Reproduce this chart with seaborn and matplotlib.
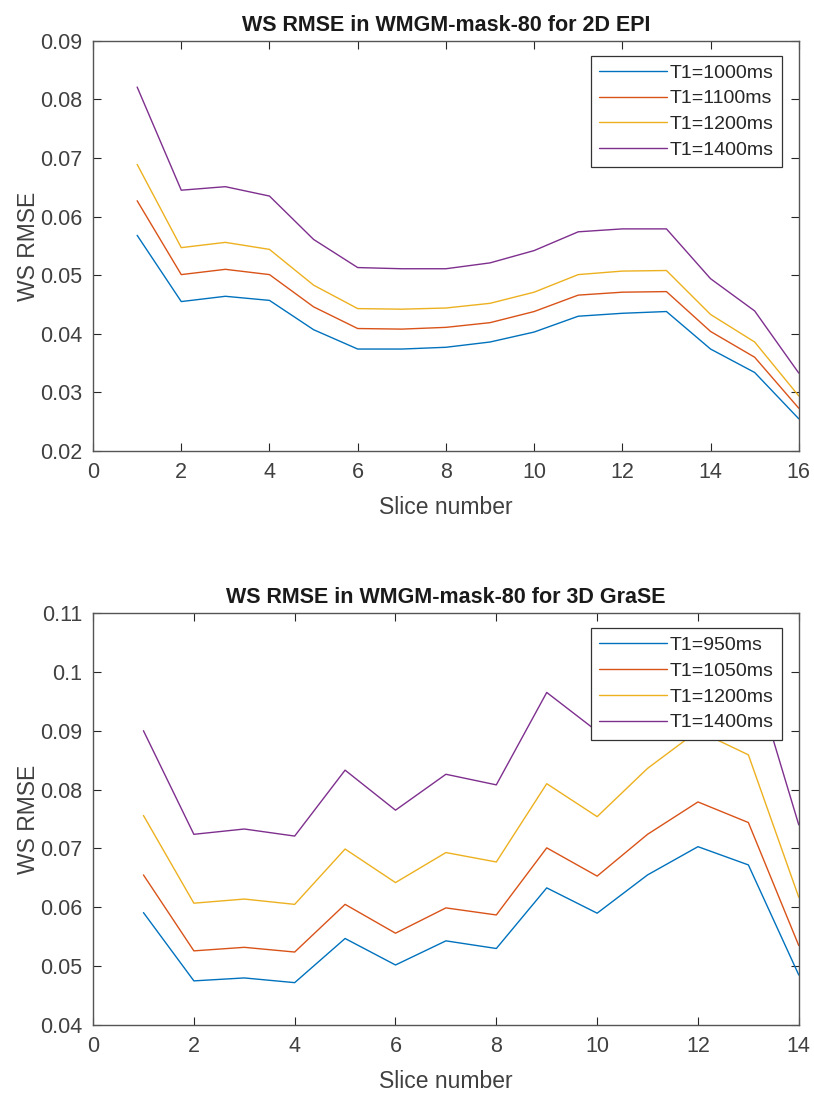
import numpy as np
import pandas as pd
import matplotlib
matplotlib.use("Agg")
import matplotlib.pyplot as plt
import seaborn as sns

# WS RMSE per slice, 2D EPI
epi_slices = list(range(1, 17))
epi_labels = ["T1=1000ms", "T1=1100ms", "T1=1200ms", "T1=1400ms"]
epi_t1_1000 = [0.0568, 0.0455, 0.0464, 0.0457, 0.0407, 0.0374, 0.0374, 0.0377,
               0.0386, 0.0403, 0.0430, 0.0435, 0.0438, 0.0374, 0.0334, 0.0255]
epi_t1_1100 = [0.0627, 0.0501, 0.0510, 0.0501, 0.0446, 0.0409, 0.0408, 0.0411,
               0.0419, 0.0438, 0.0466, 0.0471, 0.0472, 0.0404, 0.0360, 0.0273]
epi_t1_1200 = [0.0689, 0.0547, 0.0556, 0.0544, 0.0483, 0.0443, 0.0442, 0.0444,
               0.0452, 0.0471, 0.0501, 0.0507, 0.0508, 0.0433, 0.0386, 0.0294]
epi_t1_1400 = [0.0821, 0.0645, 0.0651, 0.0635, 0.0561, 0.0513, 0.0511, 0.0511,
               0.0521, 0.0542, 0.0574, 0.0579, 0.0579, 0.0494, 0.0439, 0.0333]

# WS RMSE per slice, 3D GraSE
grase_slices = list(range(1, 15))
grase_labels = ["T1=950ms", "T1=1050ms", "T1=1200ms", "T1=1400ms"]
grase_t1_950 = [0.0591, 0.0475, 0.0480, 0.0472, 0.0547, 0.0502, 0.0543,
                0.0530, 0.0633, 0.0590, 0.0655, 0.0703, 0.0672, 0.0485]
grase_t1_1050 = [0.0655, 0.0526, 0.0532, 0.0524, 0.0605, 0.0556, 0.0599,
                 0.0587, 0.0701, 0.0653, 0.0724, 0.0779, 0.0744, 0.0535]
grase_t1_1200 = [0.0756, 0.0607, 0.0614, 0.0605, 0.0699, 0.0642, 0.0693,
                 0.0677, 0.0810, 0.0754, 0.0836, 0.0900, 0.0859, 0.0617]
grase_t1_1400 = [0.0900, 0.0724, 0.0733, 0.0721, 0.0833, 0.0765, 0.0826,
                 0.0808, 0.0965, 0.0899, 0.0995, 0.1065, 0.1025, 0.0740]

epi_xticks = list(range(0, 17, 2))
epi_yticks = [0.02, 0.03, 0.04, 0.05, 0.06, 0.07, 0.08, 0.09]
grase_xticks = list(range(0, 15, 2))
grase_yticks = [0.04, 0.05, 0.06, 0.07, 0.08, 0.09, 0.1, 0.11]

colors = ["#0072BD", "#D95319", "#EDB120", "#7E2F8E"]
ink = "#262626"


def long_frame(slices, labels, series):
    rows = []
    for lab, vals in zip(labels, series):
        for s, v in zip(slices, vals):
            rows.append({"Slice": s, "RMSE": v, "T1": lab})
    return pd.DataFrame(rows)


sns.set_style("white")
plt.rcParams["font.family"] = ["Liberation Sans", "DejaVu Sans"]

fig = plt.figure(figsize=(8.14, 10.95), dpi=100)
ax_top = fig.add_axes([0.1143, 0.5881, 0.8670, 0.3747])
ax_bot = fig.add_axes([0.1143, 0.0639, 0.8670, 0.3763])


def style_axes(ax, df, labels, title, xticks, yticks, ytick_fmt):
    sns.lineplot(data=df, x="Slice", y="RMSE", hue="T1", hue_order=labels,
                 palette=colors, linewidth=1.0, ax=ax, legend=True)
    ax.set_xlim(xticks[0], xticks[-1])
    ax.set_ylim(yticks[0], yticks[-1])
    ax.set_xticks(xticks)
    ax.set_yticks(yticks)
    ax.set_xticklabels([str(t) for t in xticks])
    ax.set_yticklabels([ytick_fmt(t) for t in yticks])
    ax.tick_params(direction="in", length=6, width=0.8, colors=ink,
                   labelcolor="#404040", labelsize=15.5,
                   top=True, right=True, bottom=True, left=True, pad=8)
    for sp in ax.spines.values():
        sp.set_visible(True)
        sp.set_color("#555555")
        sp.set_linewidth(1.0)
    ax.set_title(title, fontsize=15.5, fontweight="bold", color="#1a1a1a", pad=7)
    ax.set_xlabel("Slice number", fontsize=16.5, color="#404040", labelpad=9)
    ax.set_ylabel("WS RMSE", fontsize=16.5, color="#404040", labelpad=0)
    handles, labs = ax.get_legend_handles_labels()
    leg = ax.legend(handles, labs, loc="upper right",
                    bbox_to_anchor=(0.976, 0.963), fontsize=14,
                    frameon=True, fancybox=False, framealpha=1,
                    edgecolor="#333333", handlelength=3.5, handletextpad=0.15,
                    labelspacing=0.42, borderpad=0.42, borderaxespad=0)
    leg.get_frame().set_linewidth(0.9)
    for t in leg.get_texts():
        t.set_color("#262626")


def fmt_top(v):
    return f"{v:.2f}"


def fmt_bot(v):
    s = f"{v:.2f}"
    return "0.1" if abs(v - 0.1) < 1e-9 else s


style_axes(ax_top,
           long_frame(epi_slices, epi_labels,
                      [epi_t1_1000, epi_t1_1100, epi_t1_1200, epi_t1_1400]),
           epi_labels, "WS RMSE in WMGM-mask-80 for 2D EPI",
           epi_xticks, epi_yticks, fmt_top)
style_axes(ax_bot,
           long_frame(grase_slices, grase_labels,
                      [grase_t1_950, grase_t1_1050, grase_t1_1200, grase_t1_1400]),
           grase_labels, "WS RMSE in WMGM-mask-80 for 3D GraSE",
           grase_xticks, grase_yticks, fmt_bot)

fig.savefig("out.png", dpi=100, facecolor="white")
